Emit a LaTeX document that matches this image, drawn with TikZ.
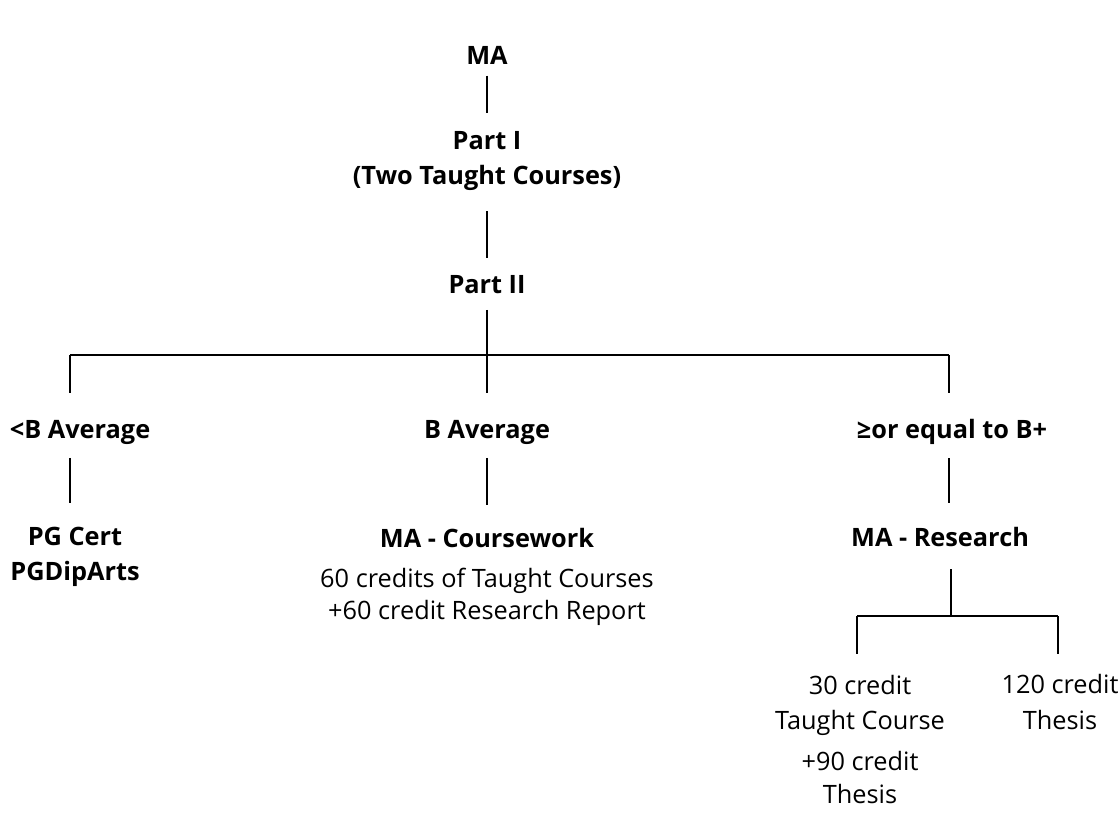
\documentclass[tikz,border=0pt]{standalone}
\usepackage{fontspec}
\setmainfont{Open Sans}
\usetikzlibrary{calc}

\begin{document}
\begin{tikzpicture}[x=0.025cm, y=-0.025cm, line width=1pt,
	head/.style={font=\bfseries, align=center, inner sep=0pt},
	plain/.style={align=center, inner sep=0pt}]
	%%%%% START %%%%%
	\fontsize{18pt}{25pt}\selectfont
	\useasboundingbox (0, 0) rectangle (1119, 813);
	
	% top of the tree
	\node[head] (ma) at (487, 55) {MA};
	\node[head] (p1) at (487, 161) {Part I\\(Two Taught Courses)};
	\node[head] (p2) at (487, 285) {Part II};
	
	\draw[shorten <=7.8pt, shorten >=12.8pt] (ma) -- (p1);
	\draw[shorten <=14.2pt, shorten >=12.1pt] (p1) -- (p2);
	
	% the three averages
	\coordinate (b1) at (70, 355);
	\coordinate (b2) at (487, 355);
	\coordinate (b3) at (949, 355);
	
	\node[head] (lo) at (80, 432) {<B Average};
	\node[head] (mid) at (487, 432) {B Average};
	\node[head] (hi) at (952, 432) {≥or equal to B+};
	
	\draw[shorten <=10.7pt] (p2) -- (b2);
	\draw (b1) -- (b3);
	\draw[shorten >=18.5pt] (b1) -- (b1 |- lo.north);
	\draw[shorten >=18.5pt] (b2) -- (b2 |- mid.north);
	\draw[shorten >=18.5pt] (b3) -- (b3 |- hi.north);
	
	% what each one leads to
	\node[head] (pg) at (75, 557) {PG Cert\\PGDipArts};
	\node[plain] (cw) at (487, 577) {\textbf{MA - Coursework}\\[3.5pt]60 credits of Taught Courses\\[-2.5pt]+60 credit Research Report};
	\node[head] (res) at (940, 537) {MA - Research};
	
	\draw[shorten <=9.2pt, shorten >=16.4pt] (lo.south -| b1) -- (pg.north -| b1);
	\draw[shorten <=9.2pt, shorten >=16.4pt] (mid.south -| b2) -- (cw.north -| b2);
	\draw[shorten <=9.2pt, shorten >=16.4pt] (hi.south -| b3) -- (res.north -| b3);
	
	% research split
	\coordinate (r0) at (951, 616);
	\coordinate (r1) at (857, 616);
	\coordinate (r2) at (1058, 616);
	
	\node[plain] (c30) at (860, 705) {30 credit\\Taught Course};
	\node[plain, anchor=north] (t90) at (860, 751) {+90 credit\\[-2pt]Thesis};
	\node[plain] (c120) at (1060, 702) {120 credit\\Thesis};
	
	\draw[shorten <=15.6pt] (res.south -| r0) -- (r0);
	\draw (r1) -- (r2);
	\draw[shorten >=14.2pt] (r1) -- (r1 |- c30.north);
	\draw[shorten >=14.2pt] (r2) -- (r2 |- c120.north);
	
	%%%%% END %%%%%
\end{tikzpicture}
\end{document}
